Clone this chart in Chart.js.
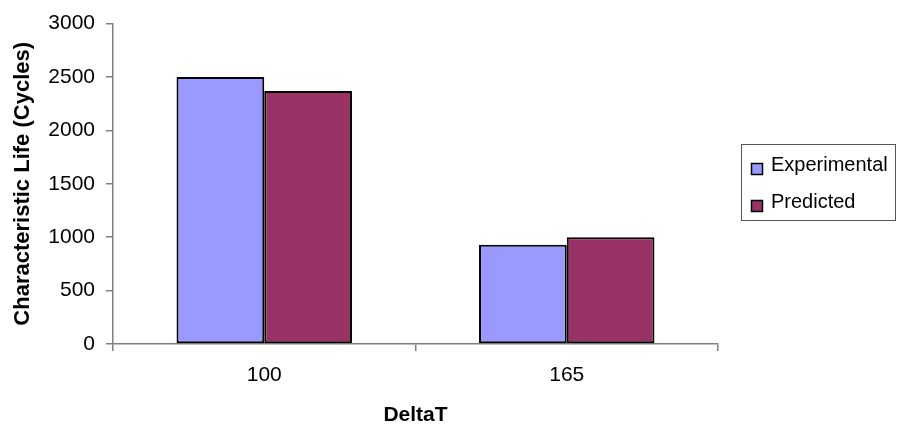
<!DOCTYPE html>
<html>
<head>
<meta charset="utf-8">
<script src="https://cdn.jsdelivr.net/npm/chart.js@4"></script>
<style>
  html, body { margin: 0; padding: 0; background: #ffffff; }
  #wrap { width: 897px; height: 430px; }
</style>
</head>
<body>
<div id="wrap"><canvas id="c" width="897" height="430"></canvas></div>
<script>
// Characteristic life by temperature swing
const categories = ['100', '165'];
const experimental = [2500, 930];
const predicted = [2370, 1000];
const yTicks = [0, 500, 1000, 1500, 2000, 2500, 3000];

const FONT = "'Liberation Sans', Arial, sans-serif";
const AXIS_GREY = '#808080';

// Boxed legend on the right, built from the dataset labels and colours
const boxLegend = {
  id: 'boxLegend',
  afterDraw(chart) {
    const ctx = chart.ctx;
    const x0 = 741, y0 = 144, w = 155, h = 76;
    ctx.save();
    ctx.strokeStyle = '#555555';
    ctx.lineWidth = 1;
    ctx.strokeRect(x0 + 0.5, y0 + 0.5, w - 1, h);
    ctx.font = '20px ' + FONT;
    ctx.textBaseline = 'middle';
    ctx.textAlign = 'left';
    chart.data.datasets.forEach((ds, i) => {
      const cy = y0 + 21 + i * 37;
      ctx.fillStyle = ds.backgroundColor;
      ctx.fillRect(751, cy - 2, 12, 12);
      ctx.strokeStyle = '#000000';
      ctx.lineWidth = 1.5;
      ctx.strokeRect(751.5, cy - 1.5, 11, 11);
      ctx.fillStyle = '#000000';
      ctx.fillText(ds.label, 771, cy);
    });
    ctx.restore();
  }
};

new Chart(document.getElementById('c'), {
  type: 'bar',
  data: {
    labels: categories,
    datasets: [
      {
        label: 'Experimental',
        data: experimental,
        backgroundColor: '#9999FF',
        borderColor: '#000000',
        borderWidth: 2,
        borderSkipped: false
      },
      {
        label: 'Predicted',
        data: predicted,
        backgroundColor: '#993366',
        borderColor: '#000000',
        borderWidth: 2,
        borderSkipped: false
      }
    ]
  },
  options: {
    responsive: false,
    animation: false,
    devicePixelRatio: 1,
    layout: { padding: { left: 0, right: 179, top: 20, bottom: 0 } },
    datasets: { bar: { categoryPercentage: 0.58, barPercentage: 1.0 } },
    plugins: {
      legend: { display: false },
      tooltip: { enabled: false }
    },
    scales: {
      x: {
        offset: true,
        grid: {
          offset: true,
          drawOnChartArea: false,
          drawTicks: true,
          tickLength: 7,
          color: AXIS_GREY,
          lineWidth: 1.5
        },
        border: { color: AXIS_GREY, width: 1.5 },
        ticks: {
          color: '#000000',
          font: { family: FONT, size: 21 },
          padding: 12,
          maxRotation: 0
        },
        title: {
          display: true,
          text: 'DeltaT',
          color: '#000000',
          font: { family: FONT, size: 21, weight: 'bold' },
          padding: { top: 0, bottom: 2 }
        },
        afterFit(scale) { scale.height = 86; }
      },
      y: {
        min: 0,
        max: 3000,
        afterBuildTicks(scale) {
          scale.ticks = yTicks.map(v => ({ value: v }));
        },
        grid: {
          drawOnChartArea: false,
          drawTicks: true,
          tickLength: 7,
          color: AXIS_GREY,
          lineWidth: 1.5
        },
        border: { color: AXIS_GREY, width: 1.5 },
        ticks: {
          color: '#000000',
          font: { family: FONT, size: 21 },
          padding: 11,
          callback: v => String(v)
        },
        title: {
          display: true,
          text: 'Characteristic Life (Cycles)',
          color: '#000000',
          font: { family: FONT, size: 22, weight: 'bold' },
          padding: { top: 10, bottom: 0 }
        },
        afterFit(scale) { scale.width = 113; }
      }
    }
  },
  plugins: [boxLegend]
});
</script>
</body>
</html>
